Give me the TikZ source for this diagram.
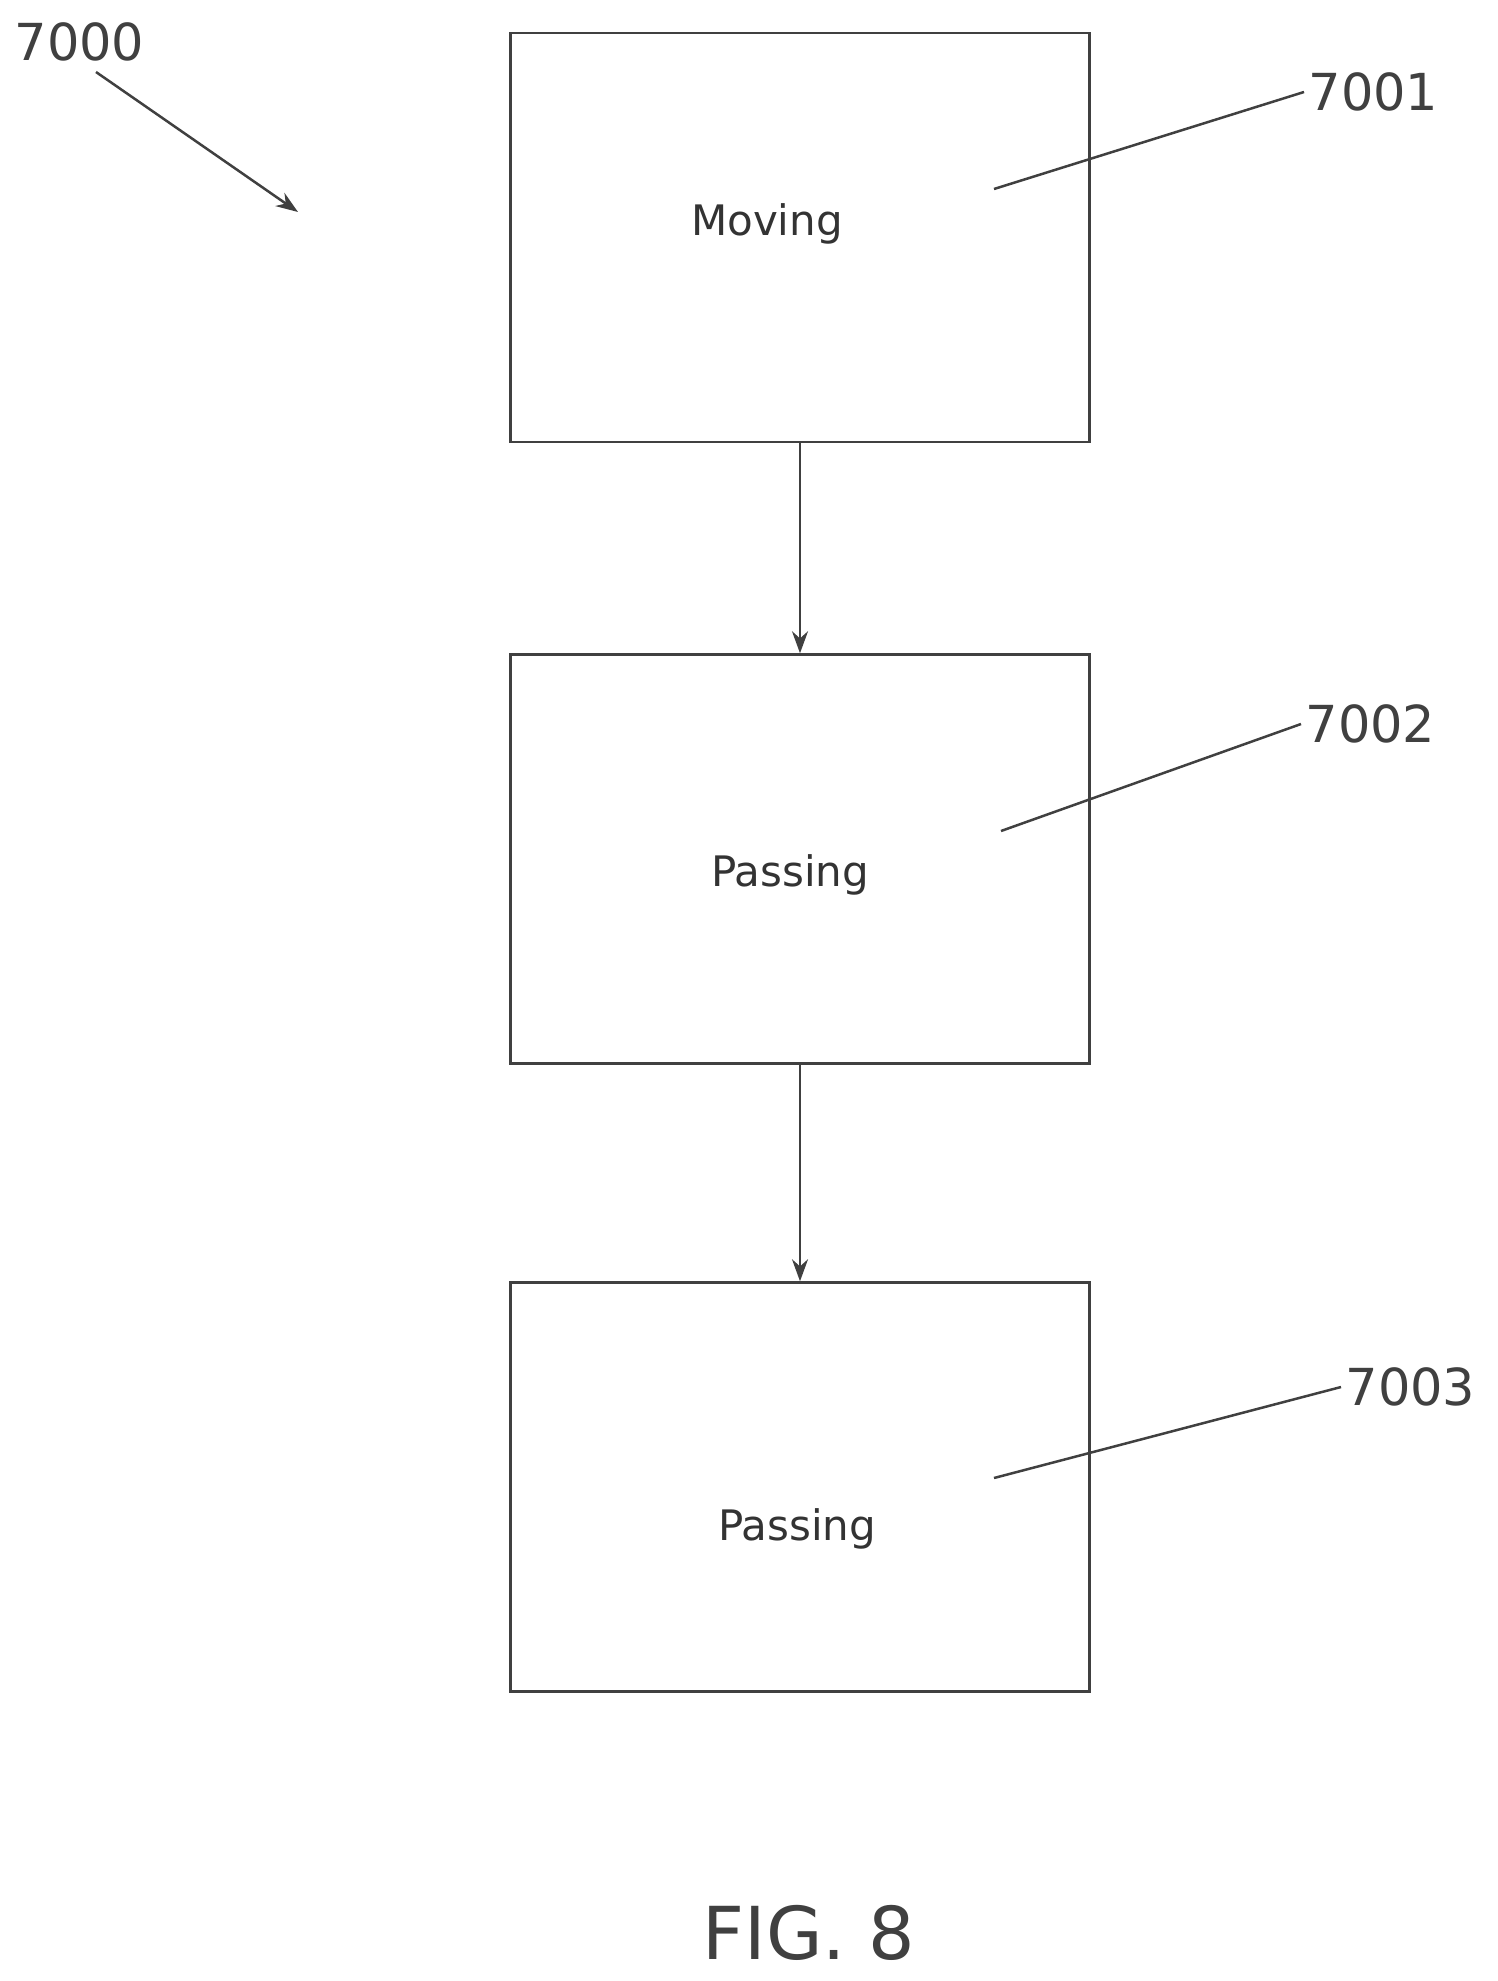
\documentclass[tikz,border=0pt]{standalone}
\usepackage{fontspec}
\setmainfont{DejaVu Sans}
\usetikzlibrary{arrows.meta}
\begin{document}
\begin{tikzpicture}[x=1pt,y=-1pt,line width=2.5pt,draw=black!75,
    stepbox/.style={draw,minimum width=579pt,minimum height=409pt,inner sep=0pt},
    reftext/.style={font=\fontsize{51}{60}\selectfont,text=black!75,anchor=west},
    boxtext/.style={font=\fontsize{42}{50}\selectfont,text=black!80},
    arr/.style={-{Stealth[length=22pt,width=16pt]}}]
        \useasboundingbox (0,0) rectangle (1497,1981);

        \node[stepbox] (S1) at (800,237.5) {};
        \node[stepbox] (S2) at (800,859) {};
        \node[stepbox] (S3) at (800,1487) {};

        \node[boxtext] (T1) at (767,224) {Moving};
        \node[boxtext] (T2) at (790,875) {Passing};
        \node[boxtext] (T3) at (797,1529) {Passing};

        \node[reftext] (L0) at (10,42) {7000};
        \node[reftext] (L1) at (1304,92) {7001};
        \node[reftext] (L2) at (1301,724) {7002};
        \node[reftext] (L3) at (1341,1387) {7003};

        \coordinate (P0) at (96,72);
        \coordinate (Q0) at (298,212);
        \coordinate (P1) at (994,189);
        \coordinate (P2) at (1001,831);
        \coordinate (P3) at (994,1478);

        \node[font=\fontsize{73}{80}\selectfont,text=black!75] (F) at (809,1933) {FIG. 8};

        \draw[arr] (S1.south) -- (S2.north);
        \draw[arr] (S2.south) -- (S3.north);
        \draw[arr] (P0) -- (Q0);
        \draw (P1) -- (L1.west);
        \draw (P2) -- (L2.west);
        \draw (P3) -- (L3.west);
      \end{tikzpicture}
\end{document}
